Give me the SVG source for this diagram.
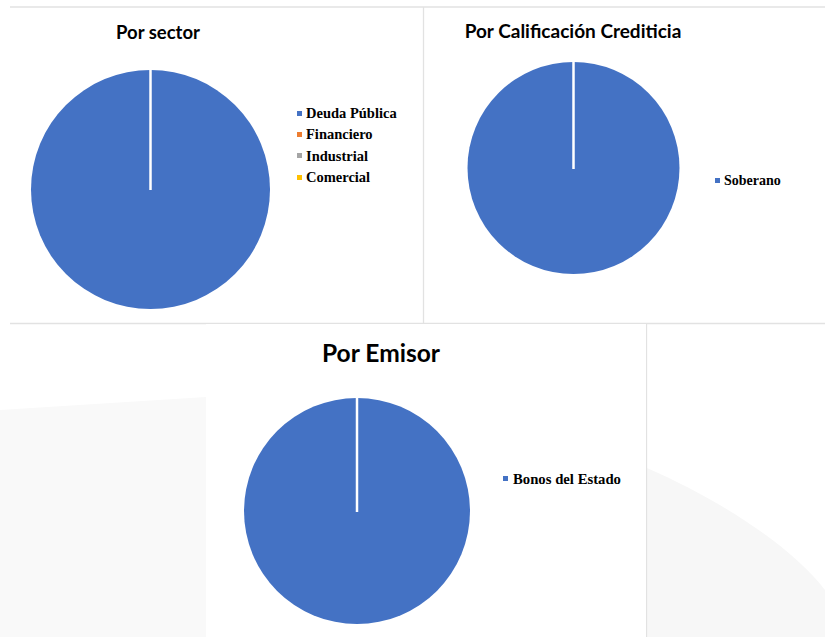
<svg xmlns="http://www.w3.org/2000/svg" width="825" height="637" viewBox="0 0 825 637">
<style>
.title{font-family:Lato,"Open Sans","Liberation Sans",sans-serif;font-weight:bold;fill:#000}
.leg{font-family:"Liberation Serif","Times New Roman",serif;font-weight:bold;font-size:14.5px;fill:#000}
.frame{stroke:#e2e2e2;stroke-width:1.3;fill:none}
.slice{fill:#4472C4}
.cut{stroke:#fff;stroke-width:2.5}
</style>
<rect width="825" height="637" fill="#fff"/>
<g id="background">
<path d="M0 410 L206 397 L206 637 L0 637 Z" fill="#f9f9f9"/>
<path d="M647 468 C720 500 790 545 825 590 L825 637 L647 637 Z" fill="#f7f7f7"/>
</g>
<g id="frames">
<line class="frame" x1="10" y1="7" x2="825" y2="7"/>
<line class="frame" x1="423.5" y1="7" x2="423.5" y2="323"/>
<line class="frame" x1="10" y1="323.5" x2="825" y2="323.5"/>
<line class="frame" x1="646.5" y1="323" x2="646.5" y2="637"/>
<rect x="206" y="324" width="440" height="313" fill="#fff"/>
</g>
<g id="chart-sector">
<text class="title" x="158" y="39" font-size="18.5" text-anchor="middle">Por sector</text>
<circle class="slice" cx="150.5" cy="189.5" r="119.5"/>
<line class="cut" x1="150.5" y1="70" x2="150.5" y2="190"/>
<rect x="297" y="111" width="5" height="5" fill="#4472C4"/>
<text class="leg" x="306" y="118">Deuda Pública</text>
<rect x="297" y="132" width="5" height="5" fill="#ED7D31"/>
<text class="leg" x="306" y="139">Financiero</text>
<rect x="297" y="153" width="5" height="5" fill="#A5A5A5"/>
<text class="leg" x="306" y="161">Industrial</text>
<rect x="297" y="175" width="5" height="5" fill="#FFC000"/>
<text class="leg" x="306" y="182">Comercial</text>
</g>
<g id="chart-calificacion">
<text class="title" x="573" y="38" font-size="19" text-anchor="middle">Por Calificación Crediticia</text>
<circle class="slice" cx="573.5" cy="168" r="106"/>
<line class="cut" x1="573.5" y1="62" x2="573.5" y2="169"/>
<rect x="715" y="178" width="5" height="5" fill="#4472C4"/>
<text class="leg" x="724" y="185" style="font-size:14px">Soberano</text>
</g>
<g id="chart-emisor">
<text class="title" x="381" y="362" font-size="24" text-anchor="middle" textLength="118" lengthAdjust="spacingAndGlyphs">Por Emisor</text>
<circle class="slice" cx="357" cy="511" r="113"/>
<line class="cut" x1="357" y1="398" x2="357" y2="512"/>
<rect x="503" y="476" width="5" height="5" fill="#4472C4"/>
<text class="leg" x="513" y="484" style="font-size:15px" textLength="108" lengthAdjust="spacingAndGlyphs">Bonos del Estado</text>
</g>
<g id="connectors"/>
</svg>
